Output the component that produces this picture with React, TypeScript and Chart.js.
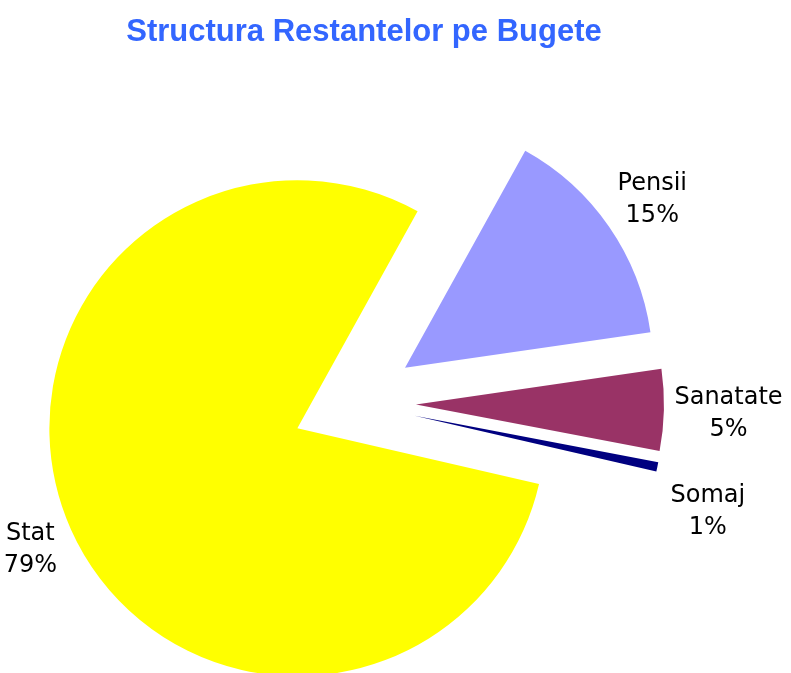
import React, { useEffect, useRef } from 'react';
import { Chart, registerables } from 'chart.js';

Chart.register(...registerables);

const chartTitle = 'Structura Restantelor pe Bugete';
const categories = ['Pensii', 'Sanatate', 'Somaj', 'Stat'];
const values = [14.65, 5.3, 0.6, 79.45];
const sliceColors = ['#9999FF', '#993366', '#000080', '#FFFF00'];

const explodePlugin = {
  id: 'explodeSlices',
  afterDatasetUpdate(chart: any, args: any, opts: any) {
    const d = opts.distance || 0;
    for (const arc of args.meta.data) {
      const mid = (arc.startAngle + arc.endAngle) / 2;
      arc.x += Math.cos(mid) * d;
      arc.y += Math.sin(mid) * d;
    }
  },
};

const sliceLabelPlugin = {
  id: 'sliceLabels',
  afterDatasetsDraw(chart: any, _args: any, opts: any) {
    const ctx = chart.ctx;
    const meta = chart.getDatasetMeta(0);
    const data = chart.data.datasets[0].data as number[];
    const total = data.reduce((a, b) => a + b, 0);
    ctx.save();
    ctx.font = opts.font;
    ctx.fillStyle = opts.color;
    ctx.textAlign = 'center';
    ctx.textBaseline = 'alphabetic';
    meta.data.forEach((arc: any, i: number) => {
      const lines = [String(chart.data.labels[i]), Math.round((data[i] / total) * 100) + '%'];
      const w = Math.max(...lines.map((l) => ctx.measureText(l).width));
      const h = opts.lineHeight + opts.capHeight;
      const mid = (arc.startAngle + arc.endAngle) / 2;
      const dx = Math.cos(mid);
      const dy = Math.sin(mid);
      const dist = arc.outerRadius + opts.pad + (Math.abs(dx) * w) / 2 + (Math.abs(dy) * h) / 2;
      const cx = arc.x + dx * dist;
      const cy = arc.y + dy * dist + ((opts.nudgeY && opts.nudgeY[i]) || 0);
      lines.forEach((l, k) => {
        const yy = cy + (k - (lines.length - 1) / 2) * opts.lineHeight + opts.capHeight / 2;
        ctx.fillText(l, cx, yy);
      });
    });
    ctx.restore();
  },
};

const titlePlugin = {
  id: 'topTitle',
  afterDraw(chart: any, _args: any, opts: any) {
    const ctx = chart.ctx;
    ctx.save();
    ctx.font = opts.font;
    ctx.fillStyle = opts.color;
    ctx.textAlign = 'center';
    ctx.textBaseline = 'alphabetic';
    ctx.fillText(opts.text, opts.x, opts.y);
    ctx.restore();
  },
};

export default function App() {
  const canvasRef = useRef<HTMLCanvasElement | null>(null);

  useEffect(() => {
    document.body.style.margin = '0';
    const canvas = canvasRef.current;
    if (!canvas) return;
    const chart = new Chart(canvas, {
      type: 'pie',
      data: {
        labels: categories,
        datasets: [
          {
            data: values,
            backgroundColor: sliceColors,
            borderWidth: 0,
            hoverOffset: 0,
          },
        ],
      },
      options: {
        responsive: false,
        animation: false,
        devicePixelRatio: 1,
        rotation: 29,
        radius: 248,
        layout: { padding: { top: 133, right: 83, bottom: 0, left: 0 } },
        events: [],
        plugins: {
          legend: { display: false },
          tooltip: { enabled: false },
          title: { display: false },
          explodeSlices: { distance: 62 },
          sliceLabels: {
            font: '24px "DejaVu Sans"',
            color: '#000000',
            lineHeight: 32,
            capHeight: 17,
            pad: 10,
            nudgeY: [0, 0, 32, 0],
          },
          topTitle: {
            text: chartTitle,
            font: 'bold 31px "Liberation Sans"',
            color: '#3366FF',
            x: 364,
            y: 41,
          },
        } as any,
      },
      plugins: [explodePlugin, sliceLabelPlugin, titlePlugin],
    });
    return () => chart.destroy();
  }, []);

  return (
    <div style={{ width: 791, height: 673, position: 'relative', overflow: 'hidden', background: '#ffffff' }}>
      <canvas ref={canvasRef} width={791} height={673} style={{ display: 'block' }} />
    </div>
  );
}
